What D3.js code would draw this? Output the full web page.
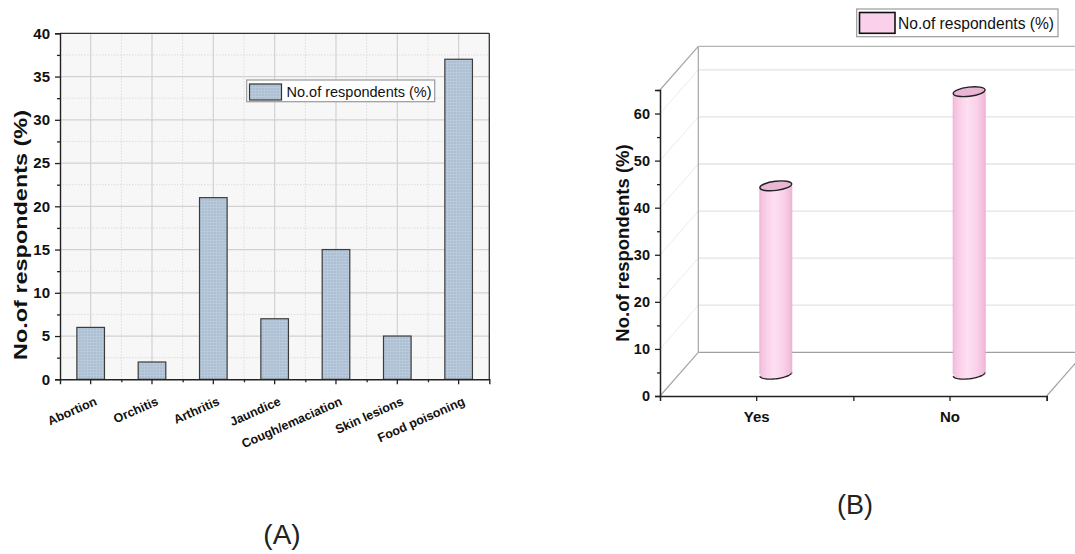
<!DOCTYPE html>
<html>
<head>
<meta charset="utf-8">
<script src="https://cdn.jsdelivr.net/npm/d3@7"></script>
<style>
  html, body { margin: 0; padding: 0; background: #fff; }
  svg { display: block; }
  text { font-family: "Liberation Sans", Arial, sans-serif; }
</style>
</head>
<body>
<svg id="chart" width="1075" height="554"></svg>
<script>
// ---------- data ----------
const categoriesA = ["Abortion", "Orchitis", "Arthritis", "Jaundice", "Cough/emaciation", "Skin lesions", "Food poisoning"];
const valuesA = [6, 2, 21, 7, 15, 5, 37];
const yTicksA = [0, 5, 10, 15, 20, 25, 30, 35, 40];

const categoriesB = ["Yes", "No"];
const valuesB = [40, 60];
const yTicksB = [0, 10, 20, 30, 40, 50, 60];

const seriesName = "No.of respondents (%)";
const axisTitle = "No.of respondents (%)";
const captions = ["(A)", "(B)"];

// ---------- setup ----------
const svg = d3.select("#chart");
const defs = svg.append("defs");

// texture pattern for panel A bars
const pat = defs.append("pattern").attr("id", "barTex")
  .attr("width", 3).attr("height", 3).attr("patternUnits", "userSpaceOnUse");
pat.append("rect").attr("width", 3).attr("height", 3).attr("fill", "#abbfd4");
pat.append("rect").attr("width", 3).attr("height", 1).attr("fill", "#bccbdb");
pat.append("rect").attr("width", 1).attr("height", 3).attr("fill", "#b9c9da");

// cylinder gradient for panel B
const grad = defs.append("linearGradient").attr("id", "cyl").attr("x1", "0").attr("x2", "1").attr("y1", "0").attr("y2", "0");
grad.append("stop").attr("offset", "0%").attr("stop-color", "#f3bddc");
grad.append("stop").attr("offset", "25%").attr("stop-color", "#fbd3eb");
grad.append("stop").attr("offset", "45%").attr("stop-color", "#fddff1");
grad.append("stop").attr("offset", "75%").attr("stop-color", "#fad0e9");
grad.append("stop").attr("offset", "100%").attr("stop-color", "#efb8d8");

// =================== PANEL A ===================
const A = { left: 60, right: 489.3, top: 33.3, bottom: 379.3 };
const xA = d3.scaleBand().domain(categoriesA).range([A.left, A.right]).paddingInner(0.55).paddingOuter(0.275);
const yA = d3.scaleLinear().domain([0, 40]).range([A.bottom, A.top]);
const gA = svg.append("g");

gA.append("rect").attr("x", A.left).attr("y", A.top).attr("width", A.right - A.left).attr("height", A.bottom - A.top)
  .attr("fill", "#f7f7f7");

// minor gridlines (dotted)
const minorY = d3.range(2.5, 40, 5);
gA.selectAll(".mgy").data(minorY).join("line")
  .attr("x1", A.left).attr("x2", A.right).attr("y1", d => yA(d)).attr("y2", d => yA(d))
  .attr("stroke", "#dcdcdc").attr("stroke-width", 1).attr("stroke-dasharray", "1.5,1.5");
const bounds = d3.range(1, categoriesA.length).map(i => A.left + xA.step() * i);
gA.selectAll(".mgx").data(bounds).join("line")
  .attr("x1", d => d).attr("x2", d => d).attr("y1", A.top).attr("y2", A.bottom)
  .attr("stroke", "#dcdcdc").attr("stroke-width", 1).attr("stroke-dasharray", "1.5,1.5");
// major gridlines
gA.selectAll(".gy").data(yTicksA.slice(1, -1)).join("line")
  .attr("x1", A.left).attr("x2", A.right).attr("y1", d => yA(d)).attr("y2", d => yA(d))
  .attr("stroke", "#d2d2d2").attr("stroke-width", 1.2);
gA.selectAll(".gx").data(categoriesA).join("line")
  .attr("x1", d => xA(d) + xA.bandwidth() / 2).attr("x2", d => xA(d) + xA.bandwidth() / 2)
  .attr("y1", A.top).attr("y2", A.bottom)
  .attr("stroke", "#d2d2d2").attr("stroke-width", 1.2);

// bars
gA.selectAll(".bar").data(categoriesA).join("rect")
  .attr("x", d => xA(d)).attr("width", xA.bandwidth())
  .attr("y", (d, i) => yA(valuesA[i])).attr("height", (d, i) => yA(0) - yA(valuesA[i]))
  .attr("fill", "url(#barTex)").attr("stroke", "#3c3c3c").attr("stroke-width", 1.2);

// frame top/right
gA.append("line").attr("x1", A.left).attr("x2", A.right).attr("y1", A.top).attr("y2", A.top).attr("stroke", "#333").attr("stroke-width", 1.3);
gA.append("line").attr("x1", A.right).attr("x2", A.right).attr("y1", A.top).attr("y2", A.bottom).attr("stroke", "#333").attr("stroke-width", 1.3);

// y axis A
const axA = gA.append("g").attr("transform", `translate(${A.left},0)`)
  .call(d3.axisLeft(yA).tickValues(yTicksA).tickSize(5).tickPadding(5));
const axAminor = gA.append("g").attr("transform", `translate(${A.left},0)`)
  .call(d3.axisLeft(yA).tickValues(minorY).tickSize(3).tickFormat(""));
// x axis A
const axAx = gA.append("g").attr("transform", `translate(0,${A.bottom})`)
  .call(d3.axisBottom(xA).tickSize(5).tickFormat(""));
const xMinorScale = d3.scaleLinear().domain([A.left, A.right]).range([A.left, A.right]);
const axAxMinor = gA.append("g").attr("transform", `translate(0,${A.bottom})`)
  .call(d3.axisBottom(xMinorScale).tickValues(bounds).tickSize(3).tickFormat(""));
[axA, axAminor, axAx, axAxMinor].forEach(g => {
  g.select(".domain").attr("stroke", "#222").attr("stroke-width", 1.4);
  g.selectAll(".tick line").attr("stroke", "#222").attr("stroke-width", 1.3);
});
axAminor.select(".domain").remove();
axAxMinor.select(".domain").remove();
axA.selectAll(".tick text").attr("font-size", 15).attr("font-weight", "bold").attr("fill", "#111")
  .attr("font-family", "Liberation Sans, Arial, sans-serif");

// x labels rotated
gA.selectAll(".xl").data(categoriesA).join("text")
  .attr("transform", d => `translate(${xA(d) + xA.bandwidth() / 2 + 7},${A.bottom + 25}) rotate(-24)`)
  .attr("text-anchor", "end").attr("font-size", 12.5).attr("font-weight", "bold").attr("fill", "#111")
  .text(d => d);

// y title A
gA.append("text").attr("transform", `translate(27,235) rotate(-90)`)
  .attr("text-anchor", "middle").attr("font-size", 18.5).attr("font-weight", "bold").attr("fill", "#111")
  .attr("textLength", 250).attr("lengthAdjust", "spacingAndGlyphs")
  .text(axisTitle);

// legend A
gA.append("rect").attr("x", 246.7).attr("y", 80).attr("width", 188).attr("height", 21.7)
  .attr("fill", "#fff").attr("stroke", "#9a9a9a").attr("stroke-width", 1.2);
gA.append("rect").attr("x", 249.5).attr("y", 84).attr("width", 32).attr("height", 16)
  .attr("fill", "url(#barTex)").attr("stroke", "#333").attr("stroke-width", 1.2);
gA.append("text").attr("x", 286.5).attr("y", 96.5).attr("font-size", 14.5).attr("fill", "#111").text(seriesName);

// =================== PANEL B ===================
const B = { left: 660, right: 1046.7, top: 90, bottom: 396 };
const dx = 38.3, dy = -43.7;
const xB = d3.scaleBand().domain(categoriesB).range([B.left, B.right]).padding(0);
const yB = d3.scaleLinear().domain([0, 65]).range([B.bottom, B.top]);
const gB = svg.append("g");

// back wall grid lines
gB.selectAll(".bg").data(yTicksB.slice(1)).join("line")
  .attr("x1", B.left + dx).attr("x2", B.right + dx).attr("y1", d => yB(d) + dy).attr("y2", d => yB(d) + dy)
  .attr("stroke", "#e3e3e3").attr("stroke-width", 1.3);
// left wall diagonal grid lines
gB.selectAll(".lg").data(yTicksB.slice(1)).join("line")
  .attr("x1", B.left).attr("x2", B.left + dx).attr("y1", d => yB(d)).attr("y2", d => yB(d) + dy)
  .attr("stroke", "#ececec").attr("stroke-width", 1);

// frame edges (gray)
const edge = (x1, y1, x2, y2, c = "#a5a5a5") => gB.append("line")
  .attr("x1", x1).attr("y1", y1).attr("x2", x2).attr("y2", y2).attr("stroke", c).attr("stroke-width", 1.2);
edge(B.left, yB(65), B.left + dx, yB(65) + dy);
edge(B.left + dx, yB(65) + dy, B.left + dx, yB(0) + dy);
edge(B.left + dx, yB(65) + dy, B.right + dx, yB(65) + dy, "#b5b5b5");
edge(B.left + dx, yB(0) + dy, B.right + dx, yB(0) + dy, "#a0a0a0");
edge(B.left, yB(0), B.left + dx, yB(0) + dy);
edge(B.right, yB(0), B.right + dx, yB(0) + dy);

// cylinders
const rx = 16, ry = 4.6, tilt = -7;
categoriesB.forEach((c, i) => {
  const cx = xB(c) + xB.bandwidth() / 2 + dx / 2;
  const yTop = yB(valuesB[i]) + dy / 2;
  const yBot = yB(0) + dy / 2;
  const g = gB.append("g");
  g.append("rect").attr("x", cx - rx).attr("y", yTop).attr("width", 2 * rx).attr("height", yBot - yTop)
    .attr("fill", "url(#cyl)");
  g.append("ellipse").attr("cx", cx).attr("cy", yBot).attr("rx", rx).attr("ry", ry)
    .attr("transform", `rotate(${tilt},${cx},${yBot})`).attr("fill", "url(#cyl)");
  const a0 = tilt * Math.PI / 180;
  const pt = (t, yc) => {
    const ex = rx * Math.cos(t), ey = ry * Math.sin(t);
    return [cx + ex * Math.cos(a0) - ey * Math.sin(a0), yc + ex * Math.sin(a0) + ey * Math.cos(a0)];
  };
  const arc = d3.range(0, 181, 6).map(d => pt(d * Math.PI / 180, yBot));
  g.append("path").attr("d", d3.line()(arc)).attr("fill", "none").attr("stroke", "#222").attr("stroke-width", 1.4);
  g.append("line").attr("x1", cx - rx).attr("x2", cx - rx).attr("y1", yTop).attr("y2", yBot).attr("stroke", "#e7aacd").attr("stroke-width", 0.8);
  g.append("line").attr("x1", cx + rx).attr("x2", cx + rx).attr("y1", yTop).attr("y2", yBot).attr("stroke", "#e7aacd").attr("stroke-width", 0.8);
  g.append("ellipse").attr("cx", cx).attr("cy", yTop).attr("rx", rx).attr("ry", ry)
    .attr("transform", `rotate(${tilt},${cx},${yTop})`)
    .attr("fill", "#e9b7d4").attr("stroke", "#222").attr("stroke-width", 1.4);
});

// axes B
const axBy = gB.append("g").attr("transform", `translate(${B.left},0)`)
  .call(d3.axisLeft(yB).tickValues(yTicksB).tickSize(5).tickPadding(5));
const axByMinor = gB.append("g").attr("transform", `translate(${B.left},0)`)
  .call(d3.axisLeft(yB).tickValues(d3.range(5, 66, 10)).tickSize(3).tickFormat(""));
const axBx = gB.append("g").attr("transform", `translate(0,${B.bottom})`)
  .call(d3.axisBottom(xB).tickSize(5).tickPadding(10));
const xMinorB = d3.scaleLinear().domain([B.left, B.right]).range([B.left, B.right]);
const axBxMinor = gB.append("g").attr("transform", `translate(0,${B.bottom})`)
  .call(d3.axisBottom(xMinorB).tickValues([B.left + xB.step(), B.right]).tickSize(5).tickFormat(""));
[axBy, axByMinor, axBx, axBxMinor].forEach(g => {
  g.select(".domain").attr("stroke", "#222").attr("stroke-width", 1.5);
  g.selectAll(".tick line").attr("stroke", "#222").attr("stroke-width", 1.3);
});
axByMinor.select(".domain").remove();
axBxMinor.select(".domain").remove();
axBy.selectAll(".tick text").attr("font-size", 14.5).attr("font-weight", "bold").attr("fill", "#111")
  .attr("font-family", "Liberation Sans, Arial, sans-serif");
axBx.selectAll(".tick text").attr("font-size", 15).attr("font-weight", "bold").attr("fill", "#111")
  .attr("font-family", "Liberation Sans, Arial, sans-serif");

// y title B
gB.append("text").attr("transform", `translate(629,243) rotate(-90)`)
  .attr("text-anchor", "middle").attr("font-size", 18.5).attr("font-weight", "bold").attr("fill", "#111")
  .text(axisTitle);

// legend B
gB.append("rect").attr("x", 856.7).attr("y", 9).attr("width", 201.3).attr("height", 27.7)
  .attr("fill", "#fff").attr("stroke", "#9a9a9a").attr("stroke-width", 1.2);
gB.append("rect").attr("x", 859.5).attr("y", 12.5).attr("width", 35.5).attr("height", 20.8)
  .attr("fill", "#fbd0ea").attr("stroke", "#111").attr("stroke-width", 1.6);
gB.append("text").attr("x", 898).attr("y", 29).attr("font-size", 15.6).attr("fill", "#111").text(seriesName);

// captions
svg.append("text").attr("x", 282).attr("y", 544).attr("text-anchor", "middle")
  .attr("font-family", "Noto Sans, Open Sans, sans-serif").attr("font-size", 28).attr("fill", "#222").text(captions[0]);
svg.append("text").attr("x", 855).attr("y", 514).attr("text-anchor", "middle")
  .attr("font-family", "Noto Sans, Open Sans, sans-serif").attr("font-size", 27).attr("fill", "#222").text(captions[1]);
</script>
</body>
</html>
